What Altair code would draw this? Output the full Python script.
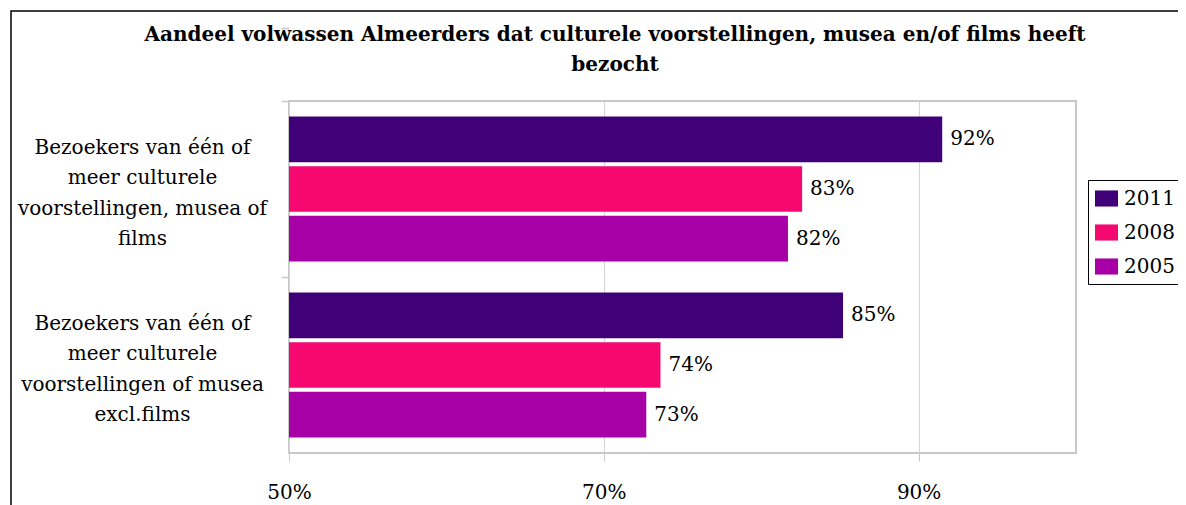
import altair as alt
import pandas as pd

# ---- data ----
categories = [
    "Bezoekers van één of|meer culturele|voorstellingen, musea of|films",
    "Bezoekers van één of|meer culturele|voorstellingen of musea|excl.films",
]
years = ["2011", "2008", "2005"]
values_cat1 = [91.5, 82.6, 81.7]
values_cat2 = [85.2, 73.6, 72.7]
labels_cat1 = ["92%", "83%", "82%"]
labels_cat2 = ["85%", "74%", "73%"]
colors = ["#3F0078", "#F5086F", "#A600A6"]
x_ticks = [50, 70, 90]
title_lines = [
    "Aandeel volwassen Almeerders dat culturele voorstellingen, musea en/of films heeft",
    "bezocht",
]

rows = []
for cat, vals, labs in [(categories[0], values_cat1, labels_cat1),
                        (categories[1], values_cat2, labels_cat2)]:
    for y, v, l in zip(years, vals, labs):
        rows.append({"category": cat, "year": y, "value": v, "label": l})
df = pd.DataFrame(rows)

FONT = "DejaVu Serif"

base = alt.Chart(df).encode(
    y=alt.Y(
        "category:N",
        sort=categories,
        title=None,
        scale=alt.Scale(paddingInner=0.176, paddingOuter=0.088),
        axis=alt.Axis(
            labelExpr="split(datum.label, '|')",
            labelAlign="center",
            labelBaseline="middle",
            labelPadding=139,
            labelOffset=46,
            labelFont=FONT,
            labelFontSize=20,
            labelColor="black",
            labelLineHeight=30.5,
            labelLimit=400,
            ticks=True,
            tickOffset=-88,
            tickExtra=True,
            tickSize=8,
            tickColor="#c8c8c8",
            tickWidth=1.5,
            domain=False,
            grid=False,
        ),
    ),
    yOffset=alt.YOffset("year:N", sort=years, scale=alt.Scale(paddingInner=0.08, paddingOuter=0)),
    x=alt.X(
        "value:Q",
        title=None,
        scale=alt.Scale(domain=[50, 100], zero=False, nice=False),
        axis=alt.Axis(
            values=x_ticks,
            format=".0f",
            labelExpr="datum.label + '%'",
            labelFont=FONT,
            labelFontSize=20,
            labelColor="black",
            labelPadding=21,
            labelFlush=False,
            tickSize=8,
            tickColor="#c8c8c8",
            gridColor="#d4d4d4",
            grid=True,
            domain=False,
        ),
    ),
)

bars = base.mark_bar().encode(
    x2=alt.datum(50),
    color=alt.Color(
        "year:N",
        sort=years,
        scale=alt.Scale(domain=years, range=colors),
        legend=alt.Legend(
            title=None,
            orient="none",
            legendX=799,
            legendY=79,
            strokeColor="black",
            fillColor="white",
            padding=7,
            labelFont=FONT,
            labelFontSize=20,
            labelColor="black",
            labelOffset=6,
            symbolType="M-1,-0.7H1V0.7H-1Z",
            symbolSize=529,
            symbolStrokeWidth=0,
            symbolOpacity=1,
            rowPadding=12,
        ),
    ),
)

texts = base.mark_text(
    align="left", baseline="middle", dx=8, font=FONT, fontSize=20, color="black"
).encode(text="label:N")

one = alt.Data(values=[{"a": 1}])

frame = alt.Chart(one).mark_rect(
    fillOpacity=0, stroke="black", strokeWidth=1.5
).encode(
    x=alt.value(-278), x2=alt.value(960), y=alt.value(-90), y2=alt.value(440)
)

title1 = alt.Chart(one).mark_text(
    text=title_lines[0], font=FONT, fontSize=20, fontWeight="bold",
    color="black", align="center", baseline="middle"
).encode(x=alt.value(326), y=alt.value(-66))

title2 = alt.Chart(one).mark_text(
    text=title_lines[1], font=FONT, fontSize=20, fontWeight="bold",
    color="black", align="center", baseline="middle"
).encode(x=alt.value(326), y=alt.value(-36))

chart = alt.layer(frame, title1, title2, bars, texts).properties(
    width=787,
    height=352,
    padding={"left": 281, "top": 93, "right": 102, "bottom": 52},
    autosize=alt.AutoSizeParams(type="none"),
).configure_view(
    stroke="#c8c8c8", strokeWidth=2
)

chart.save("out.html", embed_options={"renderer": "svg", "actions": False})
